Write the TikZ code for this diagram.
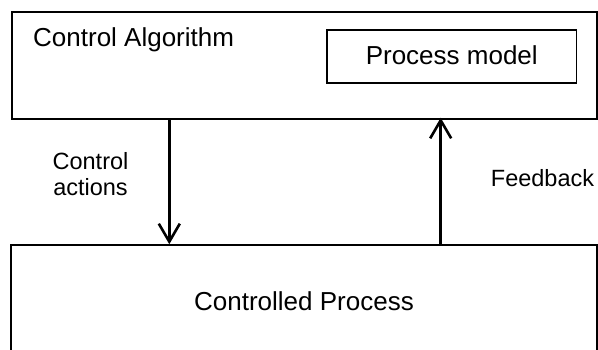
\documentclass[tikz,border=0pt]{standalone}
\usepackage{fontspec}
\setmainfont{Liberation Sans}
\usetikzlibrary{arrows.meta}
\tikzset{
  box/.style={draw=black, line width=1.5pt, rectangle, inner sep=0pt},
  boxtext/.style={inner sep=0pt, font=\fontsize{26}{30}\selectfont},
  labeltext/.style={inner sep=0pt, font=\fontsize{23.5}{26}\selectfont},
  flow/.style={line width=2.6pt, -{Straight Barb[length=18pt, width=21pt]}},
}
\begin{document}
\begin{tikzpicture}[x=1pt, y=-1pt]
  \useasboundingbox (0,0) rectangle (598,350);

  % controller and its process model
  \node[box, minimum width=585pt, minimum height=107pt] (alg) at (304.5,65.5) {};
  \node[boxtext, anchor=base west] (algtext) at (33,46.7) {Control Algorithm};
  \node[box, line width=1.8pt, minimum width=249.5pt, minimum height=53.3pt] (model) at (451.75,56.65) {};
  \node[boxtext, anchor=base] (modeltext) at (451.75,65) {Process model};

  % controlled process (runs past the lower edge)
  \node[box, minimum width=586pt, minimum height=125pt] (proc) at (304,307.5) {};
  \node[boxtext, anchor=base] (proctext) at (304,310.7) {Controlled Process};

  % signal lines
  \coordinate (cax) at (169.3,0);
  \coordinate (fbx) at (440.7,0);
  \draw[flow] (alg.south -| cax) -- (proc.north -| cax);
  \draw[flow] (proc.north -| fbx) -- ([yshift=2pt]alg.south -| fbx);

  \node[labeltext, align=center, anchor=base] (ctltext) at (90.5,196) {Control\\actions};
  \node[labeltext, anchor=base west] (fbtext) at (490.7,186.7) {Feedback};
\end{tikzpicture}
\end{document}
